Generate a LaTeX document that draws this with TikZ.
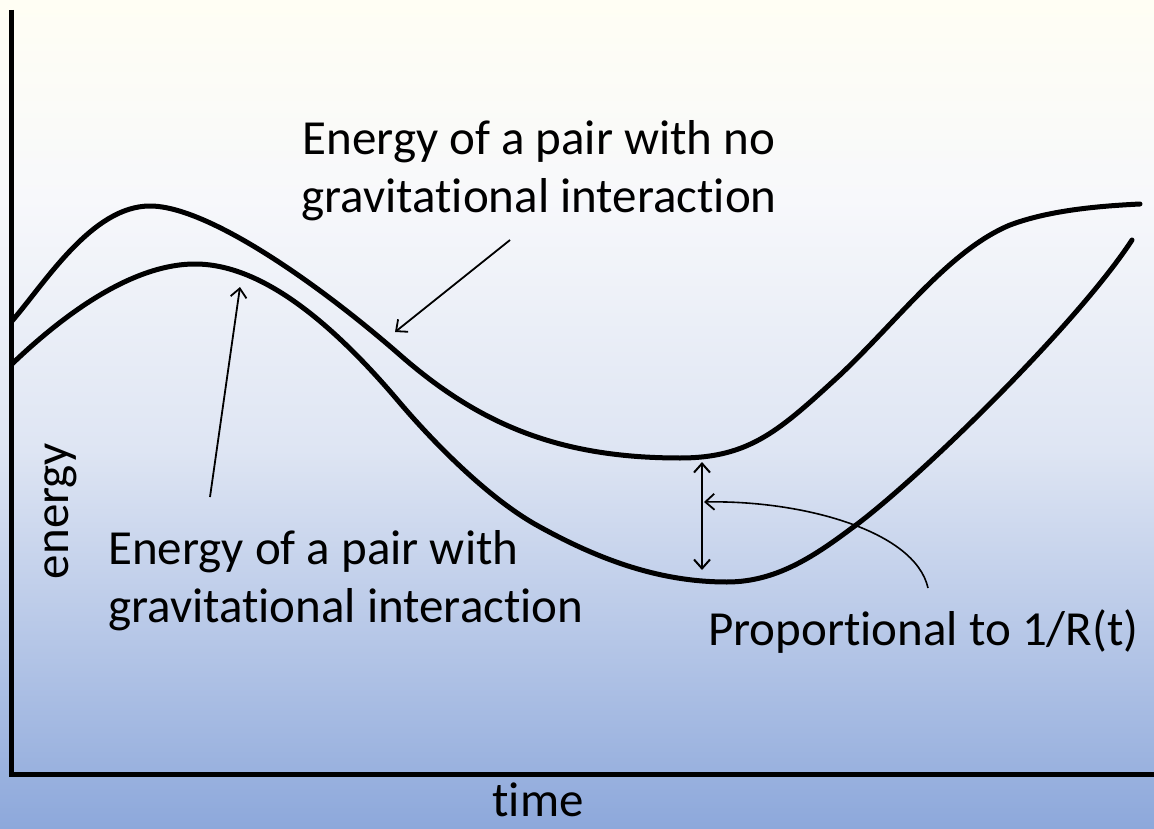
\documentclass[tikz,border=0pt]{standalone}
\usepackage{fontspec}
\setmainfont{Carlito}[Ligatures=NoCommon]
\usetikzlibrary{arrows.meta}
\definecolor{bgA}{RGB}{255,254,244}
\definecolor{bgB}{RGB}{247,248,251}
\definecolor{bgC}{RGB}{222,229,243}
\definecolor{bgD}{RGB}{141,168,219}
\tikzset{
  lbl/.style={inner sep=0pt, font=\fontsize{49}{58}\selectfont},
  curve/.style={line width=5pt, line cap=round, line join=round},
  axis/.style={line width=5pt},
  pointer/.style={line width=1.8pt, -{Straight Barb[length=9pt,width=16pt,line width=1.8pt]}},
  dbl/.style={line width=2pt, {Straight Barb[length=9pt,width=16pt,line width=2pt]}-{Straight Barb[length=9pt,width=16pt,line width=2pt]}},
}
\begin{document}
\begin{tikzpicture}[x=1pt,y=-1pt]
\useasboundingbox (0,0) rectangle (1154,829);
% background
\shade[top color=bgA, bottom color=bgB, draw=none] (0,0) rectangle (1154,201);
\shade[top color=bgB, bottom color=bgC, draw=none] (0,200) rectangle (1154,451);
\shade[top color=bgC, bottom color=bgD, draw=none] (0,450) rectangle (1154,829);
% axes
\coordinate (ytop) at (11,10);
\coordinate (orig) at (11,774);
\coordinate (xend) at (1154,774);
\draw[axis] (ytop) -- (orig) -- (xend);
% curve without interaction
\coordinate (u0) at (12,321);
\coordinate (u5) at (1140,204);
\draw[curve] (u0) .. controls (45,283) and (92,206) .. (150,206)
  .. controls (208,206) and (320,285) .. (400,355)
  .. controls (480,425) and (560,458) .. (680,458)
  .. controls (750,458) and (780,430) .. (840,375)
  .. controls (900,318) and (950,250) .. (1010,225)
  .. controls (1050,210) and (1100,206) .. (u5);
% curve with interaction
\coordinate (l0) at (12,364);
\coordinate (l6) at (1132,240);
\draw[curve] (l0) .. controls (60,318) and (130,264) .. (195,264)
  .. controls (260,264) and (330,320) .. (400,403)
  .. controls (435,444) and (490,500) .. (540,527)
  .. controls (600,560) and (660,582) .. (727,582)
  .. controls (780,582) and (820,552) .. (860,522)
  .. controls (930,468) and (1080,320) .. (l6);
% labels
\node[lbl, align=center, anchor=north] (noint) at (539,120) {Energy of a pair with no\\gravitational interaction};
\node[lbl, align=left, anchor=north west] (withint) at (108,530) {Energy of a pair with\\gravitational interaction};
\node[lbl, anchor=base west] (prop) at (708,645) {Proportional to 1/R(t)};
\node[lbl, anchor=base] (time) at (538,816) {time};
\node[lbl, anchor=base, rotate=90] (energy) at (68,511) {energy};
% pointers
\coordinate (a1s) at (510,240);
\coordinate (a1e) at (395,332);
\draw[pointer] (a1s) -- (a1e);
\coordinate (a2s) at (210,497);
\coordinate (a2e) at (240,287);
\draw[pointer] (a2s) -- (a2e);
\coordinate (gapT) at (702,462);
\coordinate (gapB) at (702,570);
\draw[dbl] (gapT) -- (gapB);
\coordinate (c3s) at (928,588);
\coordinate (c3e) at (704,502);
\draw[pointer, line width=1.6pt] (c3s) .. controls (915,530) and (800,500) .. (c3e);
\end{tikzpicture}
\end{document}
